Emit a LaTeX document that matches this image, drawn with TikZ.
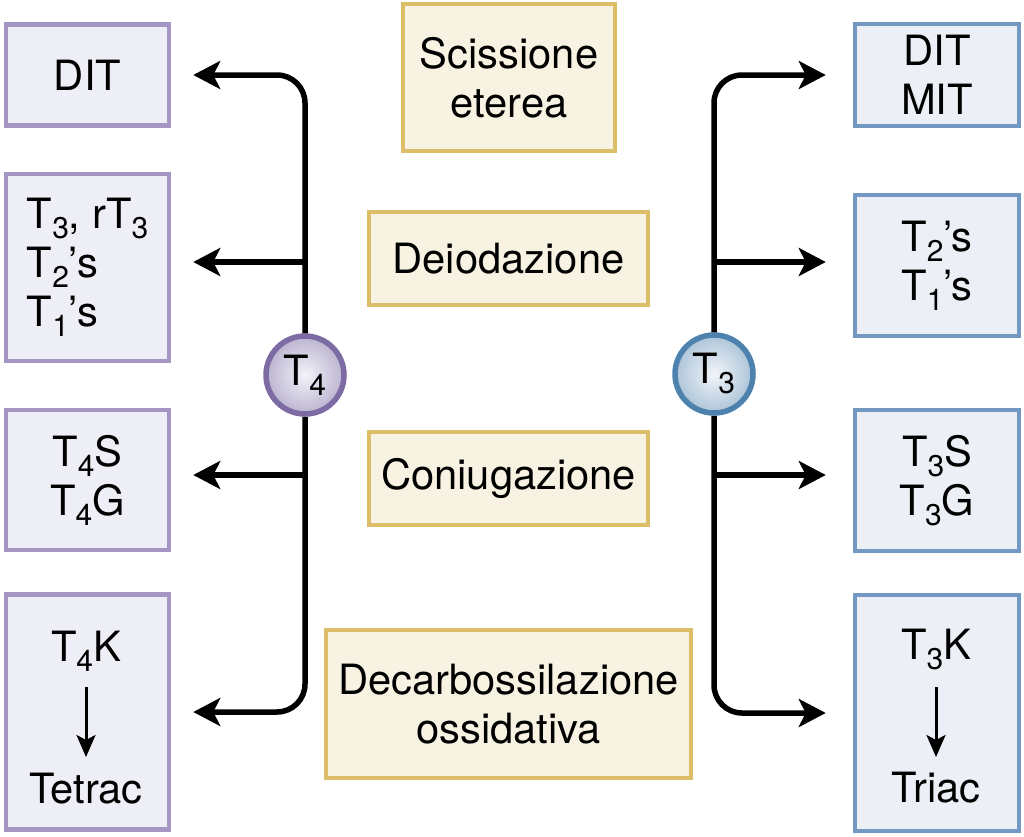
\documentclass[tikz,border=0pt]{standalone}
\usepackage{fontspec}
\setmainfont{TeX Gyre Heros}
\usetikzlibrary{arrows.meta}

\definecolor{lavfill}{HTML}{EEEEF6}
\definecolor{lavline}{HTML}{A496C2}
\definecolor{bluefill}{HTML}{ECF0F6}
\definecolor{blueline}{HTML}{7398C2}
\definecolor{sandfill}{HTML}{F8F2E2}
\definecolor{sandline}{HTML}{DDBE68}
\definecolor{tfourline}{HTML}{7D6BA3}
\definecolor{tthreeline}{HTML}{4E82AE}

% lowered small digit
\newcommand{\lowsub}[1]{\raisebox{-0.24em}{\fontsize{30}{30}\selectfont #1}}

\begin{document}
\begin{tikzpicture}[x=1pt, y=-1pt,
    every node/.style={font=\fontsize{41.7}{49}\selectfont, inner sep=0pt},
    lbox/.style={draw=lavline, fill=lavfill, line width=4.5pt, align=center, minimum width=163pt},
    rbox/.style={draw=blueline, fill=bluefill, line width=4.5pt, align=center, minimum width=164pt},
    mbox/.style={draw=sandline, fill=sandfill, line width=4.5pt, align=center},
    hormone/.style={circle, line width=5.5pt, minimum size=78pt, shading=radial},
    flow/.style={line width=5.5pt, rounded corners=28pt, -{Stealth[length=27pt, width=28pt, inset=7pt]}},
    minor/.style={line width=3pt, -{Stealth[length=22pt, width=19pt, inset=5pt]}}]

    \useasboundingbox (0,0) rectangle (1024,836);

    % middle: reactions
    \node[mbox, minimum width=212pt, minimum height=147pt] (scis) at (509,77.5) {Scissione\\eterea};
    \node[mbox, minimum width=279pt, minimum height=93pt] (deio) at (508.5,258.5) {Deiodazione};
    \node[mbox, minimum width=279pt, minimum height=93pt] (coniu) at (508.5,478.5) {Coniugazione};
    \node[mbox, minimum width=365pt, minimum height=148pt] (decarb) at (508.5,704) {Decarbossilazione\\ossidativa};

    % left: T4 products
    \node[lbox, minimum height=101pt] (ldit) at (87.5,75) {DIT};
    \node[lbox, minimum height=187pt, align=left] (ldeio) at (87.5,267.5)
        {T\lowsub{3}, rT\lowsub{3}\\T\lowsub{2}’s\\T\lowsub{1}’s};
    \node[lbox, minimum height=140pt] (lconj) at (87.5,480) {T\lowsub{4}S\\T\lowsub{4}G};
    \node[lbox, minimum height=235pt] (ldec) at (87.5,712) {};
    \node[anchor=base] (ltk) at (86,661) {T\lowsub{4}K};
    \node[anchor=base] (ltet) at (86,803) {Tetrac};
    \draw[minor] ([yshift=-26pt]ltk.base) -- ([yshift=46pt]ltet.base);

    % right: T3 products
    \node[rbox, minimum height=102pt] (rdit) at (937,75) {DIT\\MIT};
    \node[rbox, minimum height=141pt] (rdeio) at (937,265.5) {T\lowsub{2}’s\\T\lowsub{1}’s};
    \node[rbox, minimum height=141pt] (rconj) at (937,480.5) {T\lowsub{3}S\\T\lowsub{3}G};
    \node[rbox, minimum height=236pt] (rdec) at (937,713) {};
    \node[anchor=base] (rtk) at (936,659) {T\lowsub{3}K};
    \node[anchor=base] (rtri) at (936,802) {Triac};
    \draw[minor] ([yshift=-28pt]rtk.base) -- ([yshift=45pt]rtri.base);

    % hormones
    \node[hormone, draw=tfourline, inner color=lavfill!70!white, outer color=tfourline!45!lavfill] (t4) at (305,375) {T\lowsub{4}};
    \node[hormone, draw=tthreeline, inner color=bluefill!70!white, outer color=tthreeline!40!bluefill] (t3) at (714,374) {T\lowsub{3}};

    \coordinate (lk2) at (305,262);
    \coordinate (lk3) at (305,475);
    \coordinate (rk2) at (714,262);
    \coordinate (rk3) at (714,475);

    % T4 branches
    \draw[flow] (t4.north) |- ([xshift=22pt]ldit.east);
    \draw[flow] (t4.south) |- ([xshift=22pt]ldec.east);
    \draw[flow, shorten >=22pt] (lk2) -- (lk2 -| ldeio.east);
    \draw[flow, shorten >=22pt] (lk3) -- (lk3 -| lconj.east);

    % T3 branches
    \draw[flow] (t3.north) |- ([xshift=-27pt]rdit.west);
    \draw[flow] (t3.south) |- ([xshift=-27pt]rdec.west);
    \draw[flow, shorten >=27pt] (rk2) -- (rk2 -| rdeio.west);
    \draw[flow, shorten >=27pt] (rk3) -- (rk3 -| rconj.west);
\end{tikzpicture}
\end{document}
